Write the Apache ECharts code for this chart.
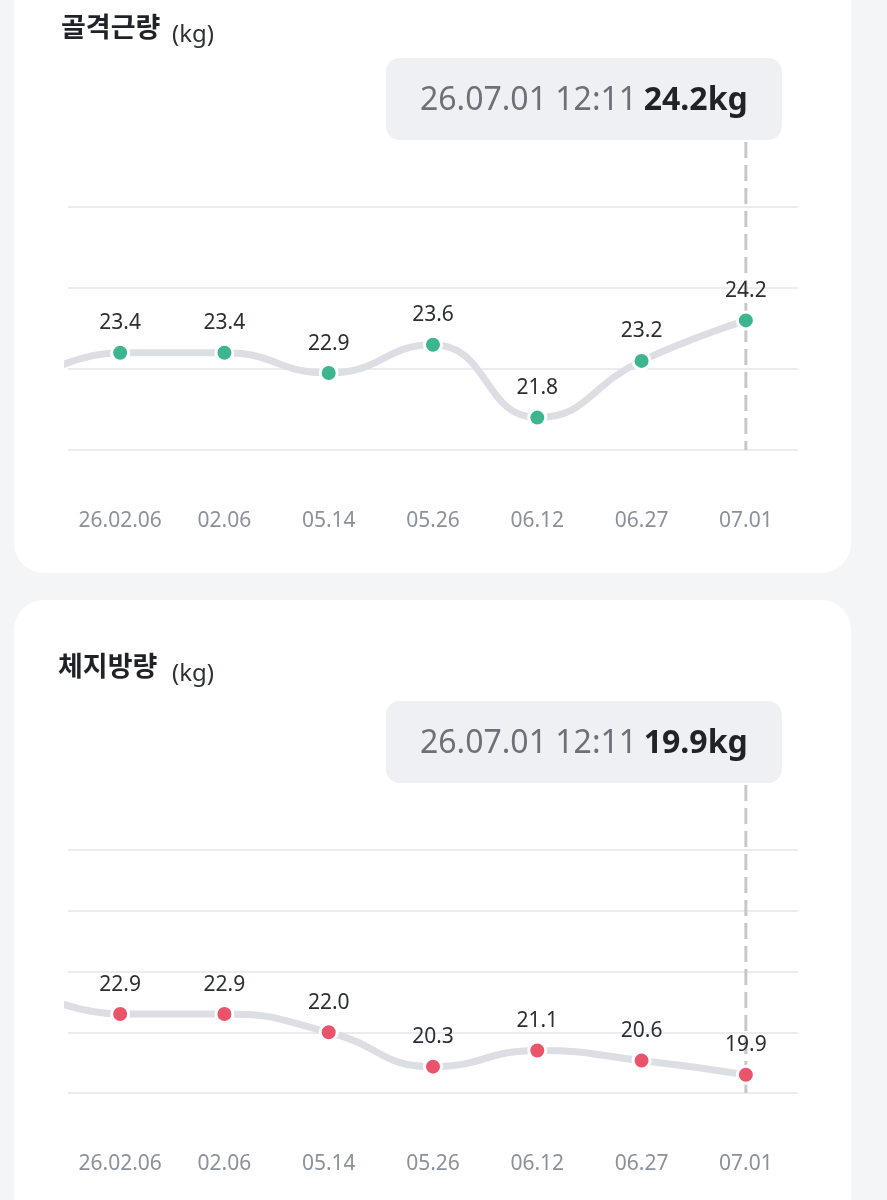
<!DOCTYPE html>
<html>
<head>
<meta charset="utf-8">
<script src="https://cdn.jsdelivr.net/npm/echarts@6/dist/echarts.min.js"></script>
<style>
  html, body { margin: 0; padding: 0; background: #f4f5f7; }
  #wrap { position: relative; width: 887px; height: 1200px; overflow: hidden; }
  .card { position: absolute; left: 14px; width: 837px; background: #ffffff; border-radius: 30px; }
  #chart { position: absolute; left: 0; top: 0; width: 887px; height: 1200px; }
</style>
</head>
<body>
<div id="wrap">
  <div class="card" style="top:-40px;height:613px"></div>
  <div class="card" style="top:600px;height:660px"></div>
  <div id="chart"></div>
</div>
<script>
  // ── Data ────────────────────────────────────────────────────────────────
  var dates = ['26.02.06', '02.06', '05.14', '05.26', '06.12', '06.27', '07.01'];
  var muscleValues = [23.4, 23.4, 22.9, 23.6, 21.8, 23.2, 24.2];
  var musclePrev = 22.5;   // earlier reading, scrolled off to the left
  var fatValues = [22.9, 22.9, 22.0, 20.3, 21.1, 20.6, 19.9];
  var fatPrev = 24.4;
  var muscleTipTime = '26.07.01 12:11';
  var fatTipTime = '26.07.01 12:11';

  var FONT = "'Noto Sans', sans-serif";
  var KFONT = "'Noto Sans CJK KR', sans-serif";

  var panels = [
    { title: '골격근량', values: muscleValues, prev: musclePrev, time: muscleTipTime,
      color: '#3db68f', top: 207, min: 21, max: 27, step: 2, titleX: 61, titleY: 27 },
    { title: '체지방량', values: fatValues, prev: fatPrev, time: fatTipTime,
      color: '#e9546b', top: 850, min: 19, max: 31, step: 3, titleX: 58, titleY: 666 }
  ];

  var chart = echarts.init(document.getElementById('chart'), null, { renderer: 'canvas' });

  var grids = [], xAxes = [], yAxes = [], series = [];
  panels.forEach(function (p, k) {
    grids.push({ left: 68, right: 89, top: p.top, height: 243 });
    xAxes.push({
      type: 'value', gridIndex: k, min: -0.5, max: dates.length - 0.5,
      axisLine: { show: false }, axisTick: { show: false }, splitLine: { show: false },
      axisLabel: {
        customValues: dates.map(function (d, i) { return i; }),
        formatter: function (v) { return dates[v] || ''; },
        margin: 61, color: '#8b9099', fontSize: 21, fontFamily: FONT
      }
    });
    yAxes.push({
      type: 'value', gridIndex: k, min: p.min, max: p.max, interval: p.step,
      axisLine: { show: false }, axisTick: { show: false }, axisLabel: { show: false },
      splitLine: { lineStyle: { color: '#eaecef', width: 2 } }
    });
    var data = [{ value: [-1, p.prev], symbol: 'none', label: { show: false } }];
    p.values.forEach(function (v, i) { data.push([i, v]); });
    series.push({
      type: 'line', xAxisIndex: k, yAxisIndex: k, data: data,
      smooth: 0.5, clip: true,
      lineStyle: { color: '#dcdee3', width: 7 },
      symbol: 'circle', symbolSize: 17,
      itemStyle: { color: p.color, borderColor: '#ffffff', borderWidth: 3 },
      label: {
        show: true, position: 'top', distance: 9,
        formatter: function (q) { return q.value[1].toFixed(1); },
        color: '#2b2e33', fontSize: 21, fontFamily: FONT
      },
      emphasis: { disabled: true },
      animation: false
    });
  });

  chart.setOption({
    backgroundColor: 'transparent',
    animation: false,
    grid: grids,
    xAxis: xAxes,
    yAxis: yAxes,
    series: series
  });

  // ── Titles, fixed tooltip boxes and dashed pointers ─────────────────────
  var graphics = [];
  panels.forEach(function (p, k) {
    graphics.push({
      type: 'text', x: p.titleX, y: p.titleY, z: 10,
      style: { text: p.title, fill: '#1f2226', fontSize: 27, fontWeight: 'bold',
               fontFamily: KFONT, verticalAlign: 'middle' }
    });
    graphics.push({
      type: 'text', x: 172, y: p.titleY + 8, z: 10,
      style: { text: '(kg)', fill: '#2d3035', fontSize: 24, fontFamily: FONT, verticalAlign: 'middle' }
    });

    var last = p.values.length - 1;
    var pt = chart.convertToPixel({ gridIndex: k }, [last, p.values[last]]);
    var yTop = chart.convertToPixel({ yAxisIndex: k }, p.max);
    var yBottom = chart.convertToPixel({ yAxisIndex: k }, p.min);
    var boxW = 396, boxH = 82;
    var boxR = pt[0] + 36, boxB = yTop - 67;

    graphics.push({
      type: 'rect', z: 10,
      shape: { x: boxR - boxW, y: boxB - boxH, width: boxW, height: boxH, r: 14 },
      style: { fill: '#eff0f3' }
    });
    graphics.push({
      type: 'text', x: boxR - boxW / 2, y: boxB - boxH / 2 + 2, z: 11,
      style: {
        text: '{t|' + p.time + '}  {v|' + p.values[last].toFixed(1) + 'kg}',
        align: 'center', verticalAlign: 'middle',
        rich: {
          t: { fontSize: 32, fontFamily: FONT, fill: '#6d7077', color: '#6d7077' },
          v: { fontSize: 32, fontFamily: FONT, fontWeight: 'bold', fill: '#1f2226', color: '#1f2226' }
        }
      }
    });
    graphics.push({
      type: 'line', z: 1,
      shape: { x1: pt[0], y1: boxB + 2, x2: pt[0], y2: yBottom },
      style: { stroke: '#c5c7cc', lineWidth: 3, lineDash: [16, 7] }
    });
  });

  chart.setOption({ graphic: graphics });
</script>
</body>
</html>
